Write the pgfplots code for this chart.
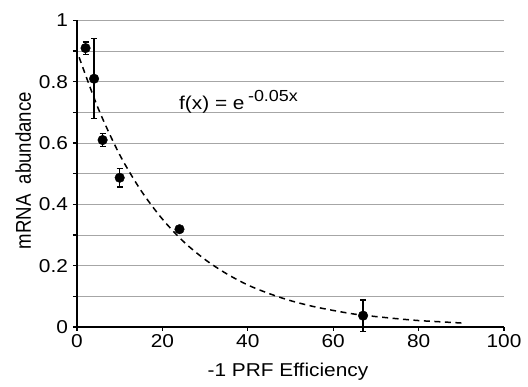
\documentclass[border=0pt]{standalone}
\usepackage{fontspec}
\setmainfont{Liberation Sans}
\usepackage{pgfplots}
\pgfplotsset{compat=1.18}
\begin{document}
\begin{tikzpicture}[font=\fontsize{18.6}{22}\selectfont]
\useasboundingbox (-77pt,-60pt) rectangle (451pt,327pt);
\begin{axis}[
  scale only axis, width=427pt, height=306.5pt,
  xmin=0, xmax=100, ymin=0, ymax=1,
  axis x line=bottom, axis y line=left,
  axis line style={-, line width=1.8pt, black},
  xtick={0,20,...,100},
  ytick={0,0.2,...,1},
  minor ytick={0.1,0.3,...,0.9},
  yticklabels={0,0.2,0.4,0.6,0.8,1},
  xticklabels={0,20,40,60,80,100},
  tick align=outside,
  major tick length=4pt, minor tick length=4pt,
  tick style={line width=1.3pt, black},
  ymajorgrids, yminorgrids,
  major grid style={line width=1pt, gray!70},
  minor grid style={line width=1pt, gray!70},
  /pgf/number format/assume math mode=true,
  xticklabel style={xscale=1.12},
  yticklabel style={xscale=1.12, xshift=-1pt},
  xlabel={-1 PRF Efficiency},
  ylabel={\scalebox{1}[1.15]{mRNA\ \ abundance}},
  xlabel style={at={(axis description cs:0.494,-0.147)}, anchor=center, xscale=1.12},
  ylabel style={at={(axis description cs:-0.126,0.51)}, anchor=center},
  clip=false,
]
\addplot[black, line width=1.5pt, dash pattern=on 6pt off 4.5pt, smooth] coordinates {
(0.5,0.88) (5,0.712) (10,0.562) (15,0.445) (20,0.352) (25,0.278) (30,0.220)
(35,0.174) (40,0.137) (45,0.109) (50,0.086) (55,0.068) (60,0.054) (65,0.042)
(70,0.034) (75,0.027) (80,0.021) (85,0.017) (90,0.013)};
\addplot[only marks, mark=*, mark size=4.8pt, black,
  error bars/.cd, y dir=both, y explicit,
  error bar style={line width=1.2pt, black},
  error mark options={rotate=90, mark size=3pt, line width=1.2pt, black}]
coordinates {
(2,0.91) +- (0,0.02)
(4,0.81) +- (0,0.13)
(6,0.61) +- (0,0.022)
(10,0.487) +- (0,0.03)
(24,0.319) +- (0,0.008)
(67,0.037) +- (0,0.051)
};
\node[anchor=west, xscale=1.12] at (axis cs:23.0,0.735) {f(x) = e\,\raisebox{8.5pt}{\fontsize{16}{16}\selectfont -0.05x}};
\end{axis}
\end{tikzpicture}
\end{document}
